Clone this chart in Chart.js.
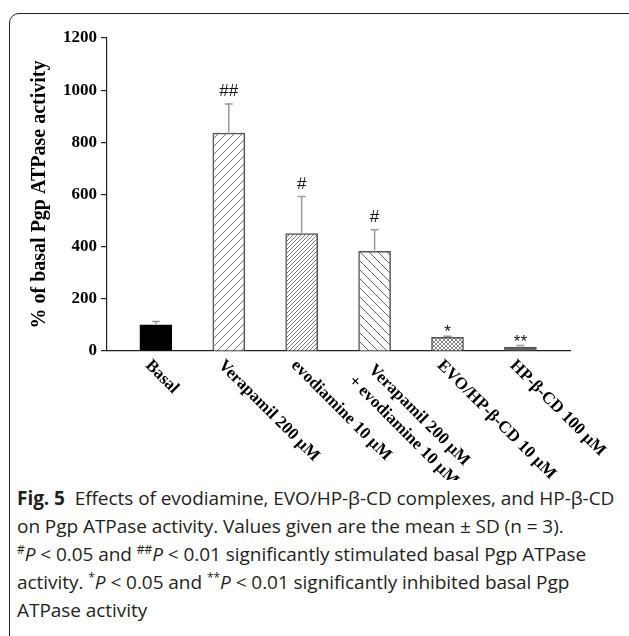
<!DOCTYPE html>
<html>
<head>
<meta charset="utf-8">
<script src="https://cdn.jsdelivr.net/npm/chart.js@4"></script>
<style>
  html, body { margin: 0; padding: 0; background: #fff; }
  body { width: 629px; height: 636px; position: relative; overflow: hidden; }
  .frame {
    position: absolute; left: 9px; top: 13px; width: 640px; height: 660px;
    border: 1.5px solid #222; border-radius: 10px; box-sizing: border-box;
  }
  #wrap { position: absolute; left: 0; top: 0; width: 629px; height: 480px; }
  .caption {
    position: absolute; left: 17px; top: 484px;
    font-family: "Open Sans", sans-serif; font-size: 19px; line-height: 28px;
    color: #231f20; white-space: nowrap; letter-spacing: -0.05px;
  }
  .caption sup { font-size: 12px; vertical-align: 7px; line-height: 0; }
</style>
</head>
<body>
<div class="frame"></div>
<div id="wrap"><canvas id="chart" width="629" height="480"></canvas></div>
<div class="caption">
  <div><b>Fig. 5</b>&nbsp; Effects of evodiamine, EVO/HP-β-CD complexes, and HP-β-CD</div>
  <div>on Pgp ATPase activity. Values given are the mean ± SD (n = 3).</div>
  <div><sup>#</sup><i>P</i> &lt; 0.05 and <sup>##</sup><i>P</i> &lt; 0.01 significantly stimulated basal Pgp ATPase</div>
  <div>activity. <sup>*</sup><i>P</i> &lt; 0.05 and <sup>**</sup><i>P</i> &lt; 0.01 significantly inhibited basal Pgp</div>
  <div>ATPase activity</div>
</div>
<script>
// Datos
const categories = [
  ['Basal'],
  ['Verapamil 200 μM'],
  ['evodiamine 10 μM'],
  ['Verapamil 200 μM', '+ evodiamine 10 μM'],
  ['EVO/HP-β-CD 10 μM'],
  ['HP-β-CD 100 μM']
];
const means = [100, 835, 450, 382, 52, 15];
const sds = [13, 112, 142, 83, 5, 6];
const marks = ['', '##', '#', '#', '*', '**'];
const yTicks = [0, 200, 400, 600, 800, 1000, 1200];

// Tramas de relleno
function makePattern(kind, size, color) {
  const c = document.createElement('canvas');
  c.width = size; c.height = size;
  const g = c.getContext('2d');
  g.fillStyle = '#fff';
  g.fillRect(0, 0, size, size);
  g.strokeStyle = color;
  g.lineWidth = 1;
  g.beginPath();
  if (kind === '/' || kind === 'x') {
    g.moveTo(-1, size + 1); g.lineTo(size + 1, -1);
    g.moveTo(-1, 1); g.lineTo(1, -1);
    g.moveTo(size - 1, size + 1); g.lineTo(size + 1, size - 1);
  }
  if (kind === '\\' || kind === 'x') {
    g.moveTo(-1, -1); g.lineTo(size + 1, size + 1);
    g.moveTo(size - 1, -1); g.lineTo(size + 1, 1);
    g.moveTo(-1, size - 1); g.lineTo(1, size + 1);
  }
  g.stroke();
  return g.createPattern(c, 'repeat');
}

const fills = [
  '#000',
  makePattern('/', 8, '#777'),
  makePattern('/', 4, '#777'),
  makePattern('\\', 9, '#666'),
  makePattern('x', 4, '#888'),
  '#666'
];
const borders = ['#000', '#555', '#555', '#555', '#555', '#555'];

// Barras de error y marcas de significancia
const errorBars = {
  id: 'errorBars',
  afterDatasetsDraw(chart) {
    const ctx = chart.ctx;
    const xs = chart.scales.x, ys = chart.scales.y;
    ctx.save();
    means.forEach((m, i) => {
      const x = xs.getPixelForValue(i);
      const y0 = ys.getPixelForValue(m);
      const y1 = ys.getPixelForValue(m + sds[i]);
      ctx.strokeStyle = '#999';
      ctx.lineWidth = 1.5;
      ctx.beginPath();
      ctx.moveTo(x, y0 - 1); ctx.lineTo(x, y1);
      ctx.moveTo(x - 4, y1); ctx.lineTo(x + 4, y1);
      ctx.stroke();
      if (marks[i]) {
        ctx.fillStyle = '#111';
        ctx.font = '17px "Liberation Sans"';
        ctx.textAlign = 'center';
        if (marks[i].includes('#')) {
          ctx.textBaseline = 'alphabetic';
          ctx.fillText(marks[i], x, y1 - 8);
        } else {
          ctx.textBaseline = 'top';
          ctx.fillText(marks[i], x, y1 - 12);
        }
      }
    });
    ctx.restore();
  }
};

// Etiquetas del eje x giradas 45°
const xLabels = {
  id: 'xLabels',
  afterDraw(chart) {
    const ctx = chart.ctx;
    const xs = chart.scales.x;
    const base = chart.chartArea.bottom;
    ctx.save();
    ctx.font = 'bold 17px "Liberation Serif"';
    ctx.fillStyle = '#000';
    ctx.textAlign = 'left';
    ctx.textBaseline = 'middle';
    categories.forEach((lines, i) => {
      const x = xs.getPixelForValue(i);
      const widths = lines.map(l => ctx.measureText(l).width);
      const maxW = Math.max(...widths);
      ctx.save();
      ctx.translate(x - 8, base + 12);
      ctx.rotate(Math.PI / 4);
      lines.forEach((l, j) => {
        ctx.fillText(l, (maxW - widths[j]) / 2, j * 22);
      });
      ctx.restore();
    });
    ctx.restore();
  }
};

const chart = new Chart(document.getElementById('chart'), {
  type: 'bar',
  data: {
    datasets: [{
      data: means.map((v, i) => ({ x: i, y: v })),
      backgroundColor: fills,
      borderColor: borders,
      borderWidth: 1.5,
      barThickness: 32
    }]
  },
  options: {
    responsive: false,
    animation: false,
    layout: { padding: { top: 38, right: 59, bottom: 0, left: 0 } },
    plugins: {
      legend: { display: false },
      tooltip: { enabled: false }
    },
    scales: {
      x: {
        type: 'linear',
        offset: false,
        min: -0.67,
        max: 5.68,
        ticks: { display: false },
        grid: { display: false, offset: false },
        border: { display: true, color: '#222', width: 1.2 },
        afterFit: s => { s.height = 129; }
      },
      y: {
        min: 0,
        max: 1200,
        afterBuildTicks: s => { s.ticks = yTicks.map(v => ({ value: v })); },
        ticks: {
          color: '#000',
          padding: 4,
          font: { family: 'Liberation Serif', size: 17, weight: 'bold' },
          callback: v => String(v)
        },
        grid: { drawOnChartArea: false, drawTicks: true, tickLength: 6, color: '#222', lineWidth: 1.2 },
        border: { display: true, color: '#222', width: 1.2 },
        title: {
          display: true,
          text: '% of basal Pgp ATPase activity',
          color: '#000',
          font: { family: 'Liberation Serif', size: 20, weight: 'bold' },
          padding: { top: 28, bottom: 0 }
        },
        afterFit: s => { s.width = 107; }
      }
    }
  },
  plugins: [errorBars, xLabels]
});
</script>
</body>
</html>
